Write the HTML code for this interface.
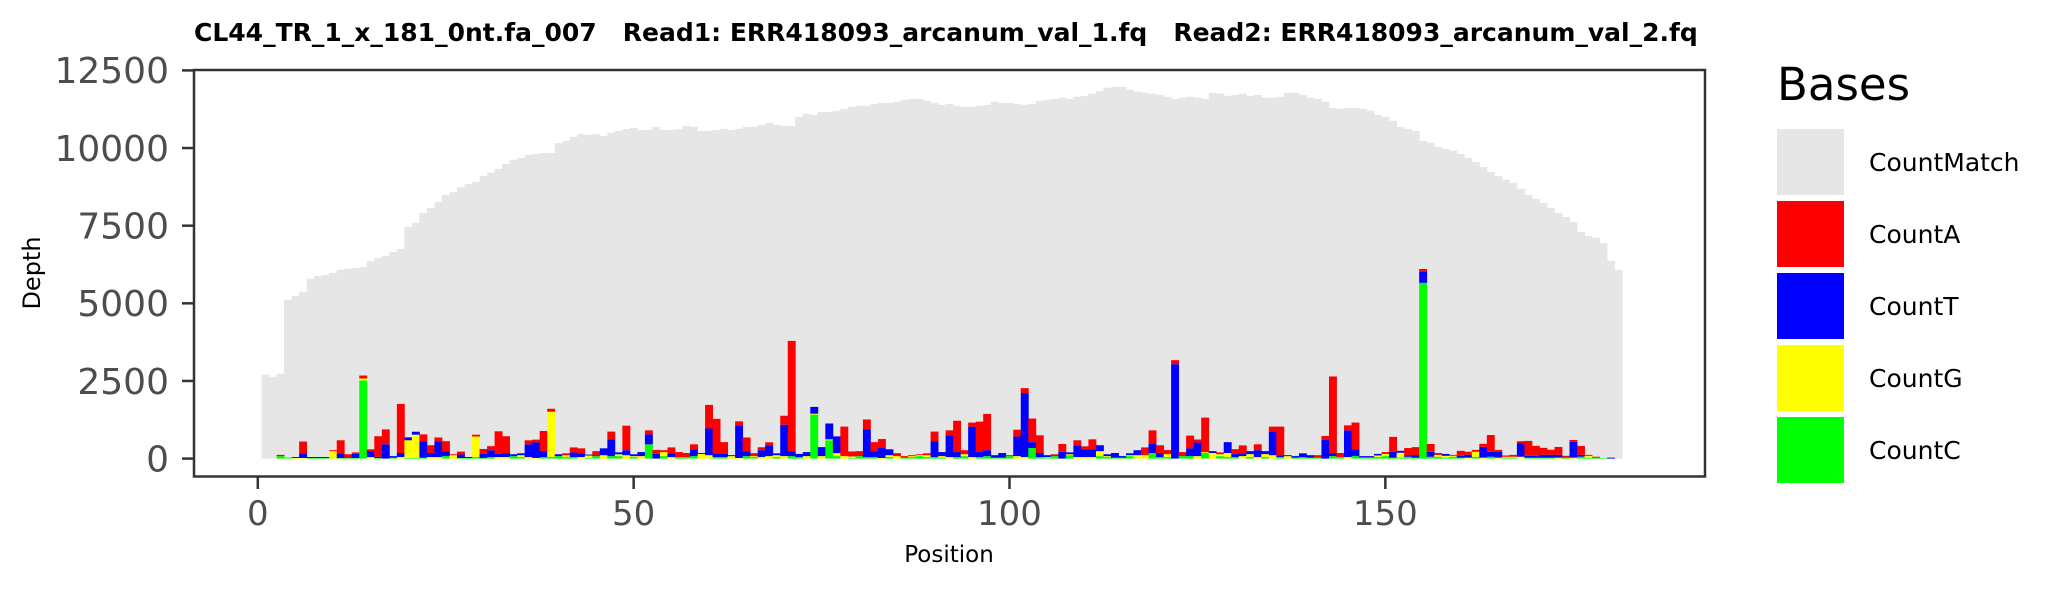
<!DOCTYPE html>
<html><head><meta charset="utf-8"><title>Depth chart</title>
<style>
html,body{margin:0;padding:0;background:#fff;}
svg{display:block;font-family:"DejaVu Sans","Liberation Sans",sans-serif;}
</style></head>
<body>
<svg id="chart" width="2066" height="590" viewBox="0 0 2066 590">
  <rect x="0" y="0" width="2066" height="590" fill="#fff"/>
  <text x="194" y="41" font-size="25" font-weight="bold" fill="#000" xml:space="preserve">CL44_TR_1_x_181_0nt.fa_007   Read1: ERR418093_arcanum_val_1.fq   Read2: ERR418093_arcanum_val_2.fq</text>
  <g id="bars"></g>
  <rect x="194" y="70" width="1511" height="406.5" fill="none" stroke="#333" stroke-width="2.5"/>
  <g id="yaxis"></g>
  <g id="xaxis"></g>
  <text x="32" y="273" font-size="24" fill="#000" text-anchor="middle" transform="rotate(-90 32 273)" dominant-baseline="central">Depth</text>
  <text x="949" y="562" font-size="23" fill="#000" text-anchor="middle">Position</text>
  <g id="legend">
    <text x="1777" y="100" font-size="45" fill="#000">Bases</text>
  </g>
</svg>
<script>
const positions = Array.from({length:181},(_,i)=>i+1);
const countMatch = [2700,2630,2730,5110,5240,5370,5790,5880,5910,5980,
6080,6110,6140,6170,6360,6460,6530,6650,6750,7460,
7590,7910,8070,8270,8490,8580,8740,8840,8910,9100,
9200,9330,9490,9620,9680,9780,9810,9840,9840,10160,
10230,10360,10450,10420,10450,10390,10490,10550,10610,10650,
10580,10580,10680,10580,10580,10610,10710,10680,10550,10550,
10580,10620,10580,10620,10680,10680,10740,10810,10740,10710,
10710,11000,11100,11070,11160,11160,11200,11260,11330,11360,
11360,11420,11450,11450,11490,11550,11580,11580,11520,11450,
11390,11420,11360,11330,11330,11360,11390,11490,11450,11450,
11420,11390,11420,11520,11550,11580,11620,11580,11650,11680,
11750,11840,11940,11970,11970,11870,11810,11780,11750,11710,
11650,11580,11620,11650,11620,11580,11780,11750,11680,11710,
11750,11680,11710,11620,11620,11650,11780,11780,11710,11620,
11580,11490,11290,11260,11290,11290,11260,11200,11070,11000,
10880,10680,10620,10550,10230,10170,10040,9970,9910,9810,
9680,9550,9390,9230,9100,8980,8880,8690,8490,8360,
8230,8070,7910,7780,7620,7300,7170,7110,6940,6360,6070];
const countA = [0,0,40,0,0,380,0,0,0,30, 430,100,50,95,60,660,480,0,1580,0,
0,220,250,130,320,30,95,0,60,160, 130,730,540,0,0,130,90,640,95,0,
60,160,160,0,130,0,250,0,790,0, 0,130,130,60,190,160,130,160,0,760,
1110,380,0,130,440,95,95,95,0,290, 3550,0,0,0,0,0,0,950,160,160,
320,290,290,0,95,50,30,30,60,320, 0,160,1010,130,130,980,1170,0,0,30,
220,160,760,570,0,60,250,0,160,95, 320,0,0,0,0,0,0,250,440,250,
130,130,130,410,95,1110,0,60,0,160, 250,0,190,0,160,920,0,0,0,0,
80,130,2470,130,160,860,0,0,0,60, 480,0,230,270,95,250,60,0,30,160,
95,60,95,540,60,40,60,60,480,320, 220,160,250,60,60,290,30,30,0,0,0];
const countT = [0,0,0,0,30,150,30,30,30,0, 140,20,130,0,190,40,460,50,130,95,
95,530,130,500,160,0,110,30,0,130, 220,100,130,60,60,410,500,200,0,60,
0,150,120,30,30,220,540,60,160,60, 130,320,150,0,120,0,0,220,30,860,
120,100,30,1050,160,0,220,350,60,1010, 160,100,130,220,290,510,540,0,0,0,
890,190,320,190,0,0,0,0,0,500, 130,700,160,0,980,160,190,80,150,0,
630,2060,190,130,60,0,220,60,380,250, 250,190,60,150,50,60,160,0,290,130,
0,3040,0,250,440,0,60,0,350,95, 95,95,220,95,760,60,30,50,120,80,
0,600,95,0,860,220,40,40,50,0, 190,60,50,70,350,160,0,60,0,60,
95,0,350,160,190,0,0,440,60,60, 95,95,95,0,510,60,0,0,0,30,0];
const countG = [0,0,0,0,20,20,0,0,0,240, 0,0,0,60,50,0,0,0,50,570,
750,0,50,50,0,110,0,0,660,0, 0,50,50,0,60,50,20,0,1460,0,
60,0,50,80,0,110,0,60,110,30, 80,0,0,130,50,0,0,0,150,110,
0,0,80,20,0,30,50,80,60,80, 0,0,80,30,80,30,95,80,50,0,
0,0,20,60,80,0,30,30,60,0, 50,50,0,60,50,0,0,0,0,0,
80,50,0,0,20,0,0,30,50,50, 50,160,30,0,0,30,110,110,0,0,
95,0,0,0,80,30,180,60,130,0, 80,95,50,95,110,0,80,0,0,0,
0,0,0,0,50,0,0,0,50,70, 0,160,0,0,0,0,60,60,30,0,
30,160,30,0,30,30,30,60,0,0, 0,0,30,0,30,0,60,0,0,0,0];
const countC = [0,0,80,30,0,0,20,20,20,0, 20,20,20,2520,0,20,0,30,0,20,
20,30,0,0,80,0,20,20,50,20, 50,0,0,80,50,0,0,50,50,80,
50,50,0,20,80,0,80,80,0,50, 0,460,0,80,0,50,50,80,0,0,
50,50,0,0,80,50,0,0,50,0, 80,50,0,1415,0,590,80,0,20,80,
50,50,0,50,0,30,50,80,50,50, 30,0,50,80,0,50,80,30,30,80,
0,0,340,50,30,80,0,110,0,0, 0,80,50,30,30,80,0,0,180,50,
50,0,80,80,0,180,0,80,50,50, 0,50,0,50,0,50,0,30,50,30,
30,0,80,50,0,80,40,40,50,80, 30,30,60,30,5660,60,60,30,60,30,
0,60,0,60,0,30,30,0,30,30, 30,30,0,30,0,60,30,30,20,0,0];
const yTicks = [0,2500,5000,7500,10000,12500];
const xTicks = [0,50,100,150];
const legendLabels = ["CountMatch","CountA","CountT","CountG","CountC"];
const legendColors = ["#e6e6e6","#ff0000","#0000ff","#ffff00","#00ff00"];

const NS = "http://www.w3.org/2000/svg";
const X0 = 257.8, XS = 7.517;
const Y0 = 458.6, YS = 77.64/2500;
function xScale(p){ return X0 + XS*p; }
function yScale(v){ return Y0 - v*YS; }
function mk(tag, attrs){ const e=document.createElementNS(NS,tag); for(const k in attrs) e.setAttribute(k,attrs[k]); return e; }

const bars = document.getElementById('bars');
positions.forEach((p,i)=>{
  const r = mk('rect',{x:xScale(p-0.5),y:yScale(countMatch[i]),width:XS+0.4,height:Y0-yScale(countMatch[i]),fill:'#e6e6e6'});
  
  
  bars.appendChild(r);
});
const stackSeries = [[countC,'#00ff00','countc-bar'],[countG,'#ffff00','countg-bar'],[countT,'#0000ff','countt-bar'],[countA,'#ff0000','counta-bar']];
positions.forEach((p,i)=>{
  let base = 0;
  stackSeries.forEach(s=>{
    const v = s[0][i];
    if(v>0){
      const r = mk('rect',{x:xScale(p-0.5),y:yScale(base+v),width:XS+0.4,height:yScale(base)-yScale(base+v),fill:s[1]});
      
      
      bars.appendChild(r);
    }
    base += v;
  });
});

const ya = document.getElementById('yaxis');
yTicks.forEach(t=>{
  const y = yScale(t);
  const l = mk('line',{x1:182,x2:194,y1:y,y2:y,stroke:'#333','stroke-width':2.5});
  
  
  ya.appendChild(l);
  const tx = mk('text',{x:169,y:y+12.8,'font-size':36,fill:'#4d4d4d','text-anchor':'end'});
  tx.textContent = t;
  
  
  ya.appendChild(tx);
});
const xa = document.getElementById('xaxis');
xTicks.forEach(t=>{
  const x = xScale(t);
  const l = mk('line',{x1:x,x2:x,y1:476,y2:489,stroke:'#333','stroke-width':2.5});
  
  
  xa.appendChild(l);
  const tx = mk('text',{x:x,y:525,'font-size':34,fill:'#4d4d4d','text-anchor':'middle'});
  tx.textContent = t;
  
  
  xa.appendChild(tx);
});
const lg = document.getElementById('legend');
legendLabels.forEach((lab,i)=>{
  const y = 129 + i*72;
  const r = mk('rect',{x:1777,y:y,width:67,height:66,fill:legendColors[i]});
  
  
  lg.appendChild(r);
  const t = mk('text',{x:1869,y:y+42,'font-size':25,fill:'#000'});
  t.textContent = lab;
  
  
  lg.appendChild(t);
});
</script>
</body></html>
